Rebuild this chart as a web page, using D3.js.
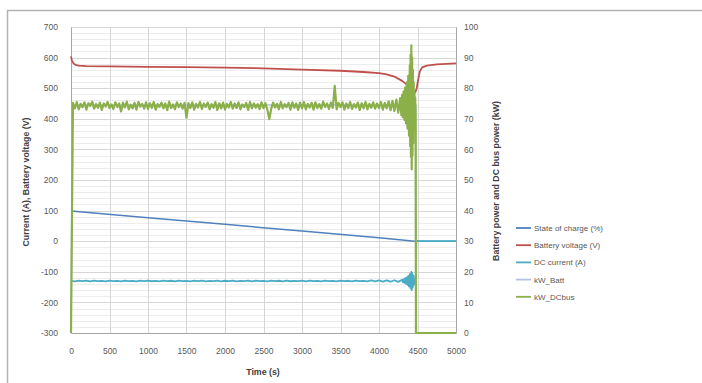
<!DOCTYPE html>
<html>
<head>
<meta charset="utf-8">
<script src="https://cdn.jsdelivr.net/npm/d3@7"></script>
<style>
  body { margin: 0; background: #fff; }
  text { font-family: "Liberation Sans", "DejaVu Sans", sans-serif; }
</style>
</head>
<body>
<svg id="chart" width="702" height="383"></svg>
<script>
// time ticks and legend
const timeTicks = [0, 500, 1000, 1500, 2000, 2500, 3000, 3500, 4000, 4500, 5000];
const leftTicks = [-300, -200, -100, 0, 100, 200, 300, 400, 500, 600, 700];
const rightTicks = [0, 10, 20, 30, 40, 50, 60, 70, 80, 90, 100];
const seriesNames = ["State of charge (%)", "Battery voltage (V)", "DC current (A)", "kW_Batt", "kW_DCbus"];
const seriesColors = ["#4f81bd", "#c0504d", "#4bacc6", "#b4c2e2", "#8bb04a"];

// battery voltage (V), left axis
const voltT = [0, 10, 30, 60, 100, 200, 500, 1000, 1500, 2000, 2500, 3000, 3500, 3800, 4000, 4100, 4200, 4300, 4350, 4400, 4440, 4470, 4490, 4510, 4530, 4560, 4620, 4750, 5000];
const voltV = [604, 592, 582, 576, 574, 572, 571, 570, 569, 567, 565, 561, 557, 553, 549, 545, 538, 524, 514, 502, 491, 486, 500, 530, 555, 568, 574, 578, 581];

// state of charge (%), left axis
const socT = [0, 1000, 2000, 3000, 4000, 4300, 4460, 5000];
const socV = [99, 77, 55, 33, 11, 4, 0, 0];

// DC current (A), left axis: samples every 50 s up to 4250 s, then tail
const dcStep = 50;
const dcV = [
  -129.5,-131.2,-128.8,-130.6,-129.1,-131.0,-128.6,-130.4,-129.7,-131.3,
  -128.9,-130.8,-129.4,-131.1,-128.7,-130.5,-129.9,-131.4,-129.0,-130.2,
  -128.5,-130.9,-129.6,-131.2,-128.8,-130.3,-129.2,-131.0,-128.6,-130.7,
  -129.8,-131.3,-129.1,-130.4,-128.9,-131.1,-129.5,-130.6,-128.7,-131.0,
  -129.3,-130.8,-128.6,-131.2,-129.7,-130.3,-129.0,-131.4,-128.8,-130.5,
  -129.6,-131.1,-128.9,-130.7,-129.2,-131.0,-128.5,-130.9,-129.8,-130.4,
  -129.1,-131.3,-128.7,-130.6,-129.4,-131.2,-128.9,-130.3,-129.7,-131.0,
  -128.6,-130.8,-129.3,-131.4,-128.8,-130.5,-129.9,-131.1,-128.4,-131.6,
  -128.2,-132.0,-127.9,-132.4,-127.5,-132.8
];
const dcTailT = [4300, 4310, 4320, 4330, 4340, 4350, 4360, 4370, 4380, 4390, 4400, 4410, 4420, 4425, 4430, 4440, 4450, 4460, 4470, 4480, 4485, 5000];
const dcTailV = [-126, -134, -124, -136, -121, -139, -118, -143, -113, -148, -108, -154, -100, -160, -104, -150, -112, -142, -122, -130, 0, 0];

// kW_Batt, right axis
const battT = [0, 20, 4480, 4485, 5000];
const battV = [0, 74.5, 74.5, 0, 0];

// kW_DCbus, right axis: samples every 25 s up to 4275 s, then tail
const busStep = 25;
const busV = [
  0, 75.2, 73.4, 75.5, 73.1, 74.9, 73.8, 75.4, 73.0, 75.1, 74.2, 75.6, 73.3, 74.8, 73.6, 75.3, 72.9, 75.0, 74.1, 75.5,
  73.5, 74.7, 73.2, 75.4, 73.9, 75.0, 72.4, 75.3, 73.7, 75.6, 73.1, 74.6, 73.4, 75.2, 73.0, 75.5, 74.0, 74.9, 73.3, 75.4,
  73.2, 75.1, 73.6, 75.5, 73.0, 74.8, 73.9, 75.3, 73.4, 75.0, 72.8, 75.6, 73.5, 74.7, 73.1, 75.4, 73.8, 75.0, 73.3, 75.2,
  70.3, 75.1, 73.5, 75.4, 73.0, 74.9, 73.7, 75.5, 73.2, 75.0, 73.9, 75.3, 73.1, 74.8, 73.6, 75.5, 72.9, 75.1, 73.4, 75.3,
  73.0, 74.9, 73.7, 75.5, 73.3, 75.0, 73.5, 75.4, 73.1, 74.7, 73.8, 75.2, 72.9, 75.5, 73.4, 75.0, 73.6, 74.8, 73.2, 75.4,
  73.5, 75.1, 73.0, 69.9, 73.3, 75.3, 73.7, 74.9, 73.1, 75.5, 73.4, 74.8, 73.8, 75.2, 73.0, 75.4, 73.6, 75.0, 72.9, 75.3,
  73.4, 75.5, 73.1, 74.9, 73.7, 75.2, 73.0, 75.4, 73.5, 74.8, 73.3, 75.6, 73.9, 75.0, 73.2, 75.3, 73.6, 80.8, 73.1, 75.2,
  73.8, 75.4, 73.0, 75.0, 73.5, 75.5, 73.2, 74.8, 73.7, 75.3, 72.9, 75.1, 73.4, 75.5, 73.1, 74.9, 73.6, 75.4, 73.3, 75.0,
  73.5, 75.5, 73.0, 75.2, 73.4, 75.7, 72.8, 75.9, 72.5, 76.3, 72.0, 76.8
];
const busTailT = [4290, 4300, 4310, 4320, 4330, 4340, 4350, 4360, 4370, 4380, 4390, 4400, 4405, 4410, 4415, 4420, 4425, 4430, 4435, 4440, 4445, 4450, 4455, 4460, 4465, 4470, 4475, 4480, 5000];
const busTailV = [71.2, 77.8, 70.5, 79.0, 69.6, 80.2, 68.5, 81.9, 66.8, 84.0, 64.5, 87.5, 61.0, 91.0, 57.5, 94.0, 53.5, 90.0, 58.0, 86.0, 62.0, 82.0, 66.0, 79.0, 70.0, 77.0, 72.0, 0, 0];

const svg = d3.select("#chart");
const plotLeft = 71, plotRight = 456, plotTop = 27, plotBottom = 333;

// chart area frame (runs off the picture right and bottom)
svg.append("rect")
  .attr("x", 7.5).attr("y", 10.5)
  .attr("width", 760).attr("height", 400)
  .attr("fill", "none").attr("stroke", "#b3b3b3").attr("stroke-width", 1.5);

const x = d3.scaleLinear().domain([0, 5000]).range([plotLeft, plotRight]);
const yL = d3.scaleLinear().domain([-300, 700]).range([plotBottom, plotTop]);
const yR = d3.scaleLinear().domain([0, 100]).range([plotBottom, plotTop]);

// gridlines
const grid = svg.append("g");
grid.selectAll(".minor")
  .data(d3.range(-300, 701, 20).filter(v => v % 100 !== 0))
  .enter().append("line")
  .attr("x1", plotLeft).attr("x2", plotRight)
  .attr("y1", d => Math.round(yL(d)) + 0.5).attr("y2", d => Math.round(yL(d)) + 0.5)
  .attr("stroke", "#ededed");
grid.selectAll(".major")
  .data(leftTicks)
  .enter().append("line")
  .attr("x1", plotLeft).attr("x2", plotRight)
  .attr("y1", d => Math.round(yL(d)) + 0.5).attr("y2", d => Math.round(yL(d)) + 0.5)
  .attr("stroke", "#d6d6d6");
grid.selectAll(".vert")
  .data(timeTicks)
  .enter().append("line")
  .attr("x1", d => Math.round(x(d)) + 0.5).attr("x2", d => Math.round(x(d)) + 0.5)
  .attr("y1", plotTop).attr("y2", plotBottom)
  .attr("stroke", "#d6d6d6");

// axes (plain hyphen minus, no thousands separator, like the original)
const plain = d => String(d);
const axisColor = "#a6a6a6";
const gl = svg.append("g").attr("transform", `translate(${plotLeft},0)`)
  .call(d3.axisLeft(yL).tickValues(leftTicks).tickFormat(plain).tickSize(0).tickPadding(13));
const gr = svg.append("g").attr("transform", `translate(${plotRight},0)`)
  .call(d3.axisRight(yR).tickValues(rightTicks).tickFormat(plain).tickSize(0).tickPadding(8));
const gb = svg.append("g").attr("transform", `translate(0,${plotBottom})`)
  .call(d3.axisBottom(x).tickValues(timeTicks).tickFormat(plain).tickSize(0).tickPadding(15));
[gl, gr, gb].forEach(g => {
  g.select(".domain").attr("stroke", axisColor);
  g.selectAll("text").attr("fill", "#595959").style("font-size", "8.5px");
});

// lines
const lineOf = (ts, vs, y) => d3.line().x((d, i) => x(ts[i])).y(d => y(d))(vs);
const dcT = dcV.map((d, i) => i * dcStep).concat(dcTailT);
const dcAll = dcV.concat(dcTailV);
const busT = busV.map((d, i) => i * busStep).concat(busTailT);
const busAll = busV.concat(busTailV);

const plot = svg.append("g").attr("fill", "none").attr("stroke-linejoin", "round");
plot.append("path").attr("d", lineOf(socT, socV, yL)).attr("stroke", seriesColors[0]).attr("stroke-width", 1.5);
plot.append("path").attr("d", lineOf(dcT, dcAll, yL)).attr("stroke", seriesColors[2]).attr("stroke-width", 1.8);
plot.append("path").attr("d", lineOf(voltT, voltV, yL)).attr("stroke", seriesColors[1]).attr("stroke-width", 1.8);
plot.append("path").attr("d", lineOf(battT, battV, yR)).attr("stroke", seriesColors[3]).attr("stroke-width", 1.6);
plot.append("path").attr("d", lineOf(busT, busAll, yR)).attr("stroke", seriesColors[4]).attr("stroke-width", 2.2);

// axis titles
svg.append("text")
  .attr("transform", "translate(29,182) rotate(-90)")
  .attr("text-anchor", "middle").attr("fill", "#404040")
  .style("font-size", "8.8px").style("font-weight", "bold")
  .text("Current (A), Battery voltage (V)");
svg.append("text")
  .attr("transform", "translate(499,181) rotate(-90)")
  .attr("text-anchor", "middle").attr("fill", "#404040")
  .style("font-size", "8.8px").style("font-weight", "bold")
  .text("Battery power and DC bus power (kW)");
svg.append("text")
  .attr("x", 263).attr("y", 375)
  .attr("text-anchor", "middle").attr("fill", "#404040")
  .style("font-size", "8.8px").style("font-weight", "bold")
  .text("Time (s)");

// legend
const legend = svg.append("g").attr("transform", "translate(516,228)");
const item = legend.selectAll("g").data(seriesNames).enter().append("g")
  .attr("transform", (d, i) => `translate(0,${i * 17.2})`);
item.append("line").attr("x1", 0).attr("x2", 15).attr("y1", 0).attr("y2", 0)
  .attr("stroke", (d, i) => seriesColors[i]).attr("stroke-width", 1.8);
item.append("text").attr("x", 18).attr("y", 3)
  .attr("fill", "#595959").style("font-size", "8px")
  .text(d => d);
</script>
</body>
</html>
